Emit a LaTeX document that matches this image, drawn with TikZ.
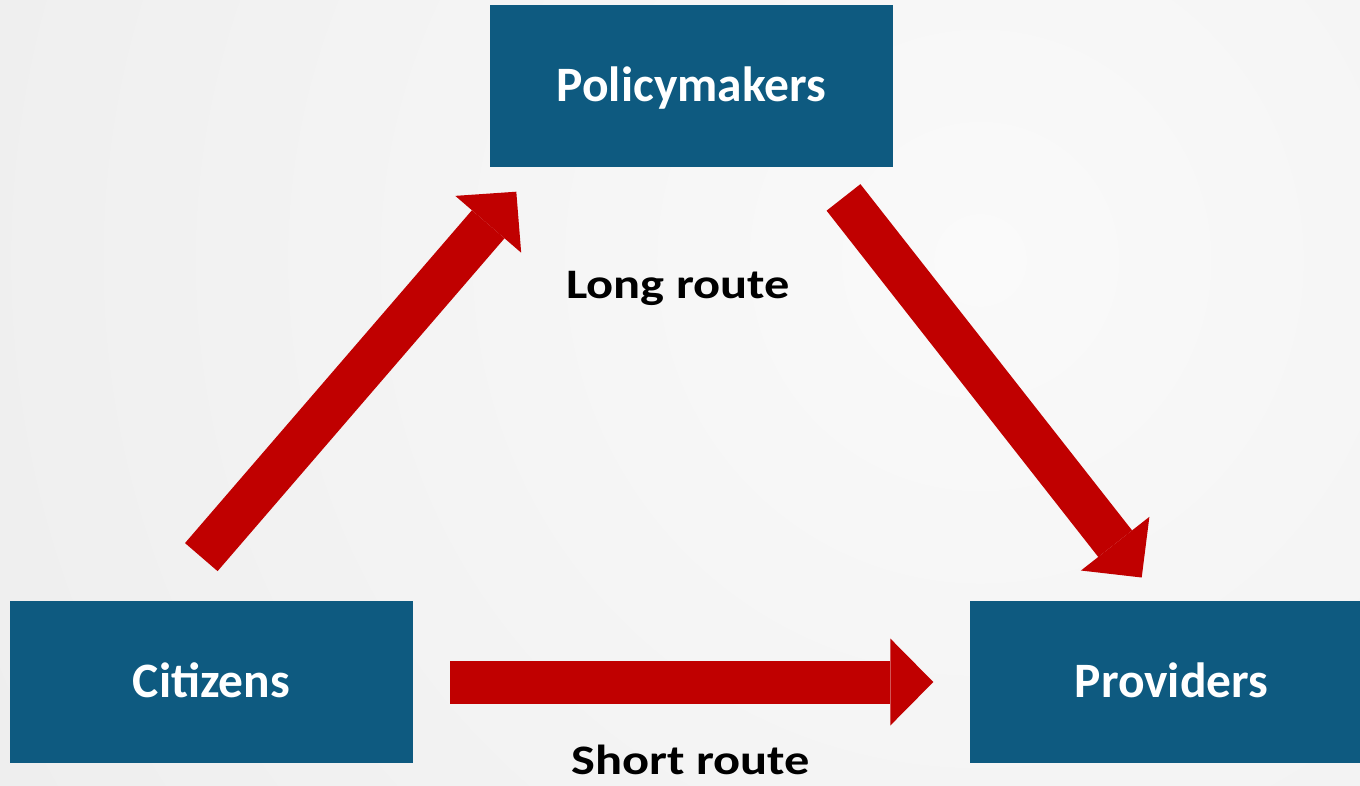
\documentclass[tikz,border=0pt]{standalone}
\usepackage{fontspec}
\setmainfont{Carlito}
\usepackage{tikz}
\usetikzlibrary{arrows.meta}
\definecolor{boxblue}{RGB}{14,90,128}
\definecolor{routered}{RGB}{192,0,0}
\definecolor{bgin}{RGB}{250,250,250}
\definecolor{bgout}{RGB}{224,224,224}
\newcommand{\widelabel}[1]{\scalebox{1.2}[1]{#1}}

\begin{document}
\begin{tikzpicture}[x=1pt,y=-1pt,
    actor/.style={fill=boxblue, text=white, inner sep=0pt,
      minimum width=403pt, minimum height=162pt,
      text height=31pt, text depth=0pt,
      font=\fontsize{49.5}{58}\selectfont\bfseries},
    route/.style={draw=routered, line width=43pt,
      -{Triangle[width=87pt,length=43pt,line width=0pt]}},
    routelabel/.style={anchor=base, font=\fontsize{42}{50}\selectfont\bfseries}]
  \useasboundingbox (0,0) rectangle (1360,785);
  \clip (0,0) rectangle (1360,785);
  \shade[inner color=bgin, outer color=bgout] (980,260) circle (2400pt);
  % the three actors
  \node[actor] (pol) at (691.5,86) {Policymakers};
  \node[actor] (cit) at (211.5,682) {Citizens};
  \node[actor] (prov) at (1171.5,682) {Providers};
  % ends of the routes
  \coordinate (cu) at ([shift={(-10.2,-43.7)}]cit.north);
  \coordinate (pl) at ([shift={(26.5,24.5)}]pol.south west);
  \coordinate (pr) at ([shift={(-49.7,30.2)}]pol.south east);
  \coordinate (pu) at ([shift={(-29.8,-23.3)}]prov.north);
  \coordinate (ce) at ([xshift=37pt]cit.east);
  \coordinate (pw) at ([xshift=-36.5pt]prov.west);
  \draw[route] (cu) -- (pl);
  \draw[route] (pr) -- (pu);
  \draw[route] (ce) -- (pw);
  \node[routelabel] (long) at (678,298) {\widelabel{Long route}};
  \node[routelabel] (short) at (690.5,774) {\widelabel{Short route}};
\end{tikzpicture}
\end{document}
